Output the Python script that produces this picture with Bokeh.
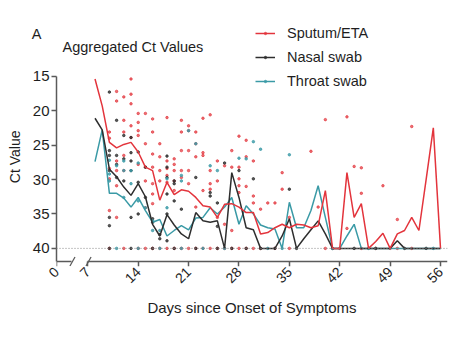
import math
from bokeh.plotting import figure
from bokeh.models import Range1d, FixedTicker, Span, Label, Legend, LegendItem, LinearAxis
from bokeh.embed import file_html
from bokeh.resources import INLINE

# ---------------- data ----------------
days = list(range(8, 57))

sputum_mean = [15.4, 19.3, 24.6, 25.4, 24.9, 24.6, 26.0, 28.2, 28.7, 33.0,
               30.4, 32.2, 31.5, 31.7, 32.6, 33.8, 34.0, 35.5, 33.6, 33.5,
               34.0, 34.8, 34.8, 37.9, 37.7, 37.0, 36.5, 37.0, 36.5, 36.6,
               37.0, 36.7, 31.6, 40.0, 40.0, 29.0, 35.5, 33.5, 40.0, 39.0,
               37.8, 40.0, 37.9, 37.4, 35.5, 37.4, 30.0, 22.5, 40.0]

nasal_mean = [21.1, 22.8, 28.5, 29.6, 31.1, 32.3, 30.6, 32.5, 36.5, 38.2,
              35.1, 36.6, 37.9, 38.6, 34.8, 36.0, 36.2, 36.0, 40.0, 29.0,
              32.6, 37.0, 37.3, 40.0, 40.0, 40.0, 38.2, 35.7, 40.0, 38.6,
              37.3, 36.0, 37.9, 40.0, 40.0, 40.0, 40.0, 40.0, 40.0, 40.0,
              40.0, 40.0, 38.9, 40.0, 40.0, 40.0, 40.0, 40.0, 40.0]

throat_mean = [27.4, 22.8, 32.0, 32.0, 32.7, 34.0, 32.6, 34.5, 36.2, 35.8,
               38.2, 37.4, 36.7, 37.3, 35.6, 35.5, 34.1, 35.0, 34.0, 32.6,
               36.5, 33.8, 35.0, 36.6, 37.0, 37.2, 40.0, 33.3, 37.0, 37.0,
               34.5, 30.9, 35.5, 40.0, 40.0, 38.2, 36.5, 40.0, 40.0, 40.0,
               40.0, 40.0, 40.0, 40.0, 40.0, 40.0, 40.0, 40.0, 40.0]

# individual samples (day, Ct)
sputum_day = [10, 10, 10, 10, 10, 11, 11, 11, 11, 11, 11, 12, 12, 12, 12, 12,
              13, 13, 13, 13, 13, 14, 14, 14, 14, 14, 15, 15, 15, 15, 15,
              16, 16, 16, 16, 16, 16, 16, 17, 17, 17, 17, 18, 18, 18, 18, 18,
              19, 19, 19, 19, 19, 20, 20, 20, 20, 20, 21, 21, 21, 21, 21,
              22, 22, 22, 22, 23, 23, 23, 23, 24, 24, 24, 24, 25, 25, 25,
              26, 26, 27, 27, 27, 28, 28, 28, 28, 28, 29, 29, 29, 30, 30, 30,
              31, 32, 33, 34, 34, 35, 38, 39, 40, 43, 43, 44, 45, 45, 48, 50, 52,
              10, 12, 14, 15, 16, 17, 18, 19, 20, 21, 22, 23, 24, 25, 26, 27,
              28, 29, 30, 31, 33, 35, 40, 42, 45, 47, 49, 50, 52]
sputum_ct = [23.1, 24.0, 28.4, 29.9, 34.5, 17.2, 18.6, 27.3, 28.7, 30.9, 35.5,
             18.0, 21.4, 23.1, 26.5, 28.7, 15.4, 17.6, 19.0, 22.2, 23.9,
             20.4, 21.7, 22.9, 23.6, 27.8, 20.4, 24.8, 28.2, 30.2, 34.1,
             21.2, 23.1, 26.3, 28.2, 30.6, 32.1, 33.5, 24.8, 26.7, 28.7, 30.2,
             21.0, 27.3, 28.4, 29.4, 30.4, 27.0, 27.8, 28.7, 30.2, 31.6,
             21.4, 23.1, 25.8, 28.7, 29.7, 22.2, 22.9, 25.8, 28.7, 30.6,
             23.1, 24.8, 26.7, 34.0, 21.1, 26.1, 26.5, 31.6, 20.6, 28.7, 30.6, 31.4,
             27.3, 30.2, 35.5, 28.0, 36.5, 25.8, 28.2, 37.4,
             23.7, 28.2, 29.9, 30.9, 31.9, 24.3, 26.7, 31.0, 27.3, 32.4, 33.4,
             34.3, 33.4, 33.4, 29.0, 31.4, 35.5, 25.9, 34.0, 21.3, 20.9, 37.1,
             28.1, 28.3, 32.0, 30.9, 35.8, 22.3,
             40, 40, 40, 40, 40, 40, 40, 40, 40, 40, 40, 40, 40, 40, 40, 40,
             40, 40, 40, 40, 40, 40, 40, 40, 40, 40, 40, 40, 40]

nasal_day = [10, 10, 10, 10, 10, 10, 11, 11, 11, 11, 12, 12, 12,
             13, 13, 13, 13, 13, 14, 14, 14, 15, 15, 16, 16, 17, 17,
             18, 18, 18, 18, 18, 18, 19, 19, 19, 20, 22, 24, 24, 25, 25,
             26, 28, 30, 35,
             10, 13, 16, 19, 22, 25, 27, 29, 31, 33, 36, 41, 44, 47, 51, 54]
nasal_ct = [17.3, 25.8, 26.5, 28.7, 35.5, 36.7, 21.4, 26.5, 27.8, 29.7,
            23.6, 27.0, 30.2, 23.9, 26.1, 27.3, 28.7, 35.5, 26.0, 30.4, 35.0,
            28.2, 32.6, 35.7, 36.2, 38.0, 38.6, 26.6, 28.2, 29.7, 32.1, 35.0,
            38.9, 30.2, 30.6, 33.1, 34.3, 29.7, 31.9, 32.4, 33.4, 36.8,
            27.6, 28.7, 29.9, 31.4,
            40, 40, 40, 40, 40, 40, 40, 40, 40, 40, 40, 40, 40, 40, 40, 40]

throat_day = [10, 10, 10, 11, 12, 12, 12, 13, 13, 14, 14, 15, 16, 16, 17,
              18, 18, 20, 20, 21, 22, 24, 25, 28, 29, 30, 31, 35,
              11, 14, 17, 20, 23, 26, 32, 34, 41, 46, 55]
throat_ct = [27.2, 29.2, 30.2, 28.0, 27.3, 28.7, 32.6, 28.7, 30.6, 27.6, 33.1,
             34.1, 36.0, 37.4, 37.4, 29.9, 34.1, 29.4, 30.2, 22.9, 24.8, 28.0,
             28.7, 26.9, 27.0, 24.5, 25.6, 26.4,
             40, 40, 40, 40, 40, 40, 40, 40, 40, 40, 40]

y_ticks = [15, 20, 25, 30, 35, 40]
x_ticks = [7, 14, 21, 28, 35, 42, 49, 56]
x_origin_label = "0"
series_names = ["Sputum/ETA", "Nasal swab", "Throat swab"]
title_text = "Aggregated Ct Values"
panel_letter = "A"
x_label = "Days since Onset of Symptoms"
y_label = "Ct Value"

# ---------------- styling ----------------
RED = "#e3343c"
BLACK = "#2e2e2e"
TEAL = "#3a9aa6"
FONT = "Liberation Sans"
TXT = "#1e1e1e"
AXC = "#5a5a5a"

X0, X1 = 2.65, 56.97          # x range (axis origin .. right end)
Y_AXIS = 41.9                 # Ct value where the x axis line sits
Y_BOT, Y_TOP = 42.63, 4.0     # y range of the frame (reversed)
Y_AX_TOP = 15
BREAK_L, BREAK_R = 4.8, 7.0
LETTER_POS = 8.8
NBSP = "\u00a0"

p = figure(width=463, height=338, output_backend="svg", toolbar_location=None,
           x_range=Range1d(X0, X1), y_range=Range1d(Y_BOT, Y_TOP),
           min_border_left=56, min_border_right=16,
           min_border_top=0, min_border_bottom=72)
p.title.visible = False
p.outline_line_color = None
p.grid.visible = False
p.background_fill_color = "white"
p.border_fill_color = "white"


def style(ax):
    ax.axis_line_color = AXC
    ax.axis_line_width = 1.5
    ax.major_tick_line_color = AXC
    ax.major_tick_line_width = 1.5
    ax.major_tick_in = 0
    ax.major_tick_out = 5
    ax.minor_tick_line_color = None
    ax.major_label_text_font = FONT
    ax.major_label_text_color = TXT
    ax.axis_label_text_font = FONT
    ax.axis_label_text_color = TXT
    ax.axis_label_text_font_style = "normal"


# main y axis (label padded at its far end so it sits centred on the axis line)
yax = p.yaxis[0]
style(yax)
yax.bounds = (Y_AX_TOP, Y_AXIS)
yax.ticker = FixedTicker(ticks=y_ticks)
yax.major_label_text_font_size = "15px"
yax.major_label_standoff = 2
yax.axis_label = y_label + NBSP * 12
yax.axis_label_text_font_size = "14px"
yax.axis_label_standoff = 7

# panel letter as the label of an outer helper axis
aax = LinearAxis(ticker=FixedTicker(ticks=[LETTER_POS]))
style(aax)
aax.major_label_overrides = {LETTER_POS: panel_letter}
aax.axis_line_color = None
aax.major_tick_line_color = None
aax.major_tick_out = 0
aax.major_label_standoff = -38
aax.major_label_text_font_size = "14.5px"
p.add_layout(aax, "left")

# x axis: labels from the normal axis at the frame edge (no line, no tick marks)
xax = p.xaxis[0]
style(xax)
xax.axis_line_color = None
xax.major_tick_line_color = None
xax.major_tick_out = 0
xax.ticker = FixedTicker(ticks=[X0] + x_ticks)
xax.major_label_overrides = {X0: x_origin_label}
xax.major_label_orientation = math.pi / 4
xax.major_label_text_font_size = "14px"
xax.major_label_standoff = 3
xax.axis_label = x_label
xax.axis_label_text_font_size = "15px"
xax.axis_label_standoff = 8

# x axis line and ticks, broken between BREAK_L and BREAK_R
for lo, hi, tks in ((X0, BREAK_L, [X0]), (BREAK_R, X1, x_ticks)):
    seg = LinearAxis(fixed_location=Y_AXIS, bounds=(lo, hi), ticker=FixedTicker(ticks=tks))
    style(seg)
    seg.major_label_text_color = None
    p.add_layout(seg, "below")

# break marks
for bx in (BREAK_L + 0.07, BREAK_R + 0.1):
    p.segment(x0=bx - 0.35, y0=Y_AXIS + 0.65, x1=bx + 0.35, y1=Y_AXIS - 0.65,
              line_color=AXC, line_width=1.3)

# limit-of-detection line
p.add_layout(Span(location=40, dimension="width", line_color="#8a8a8a",
                  line_width=1, line_dash="1 2"))

# points
sr = p.scatter(sputum_day, sputum_ct, size=2.5, color=RED, alpha=0.7)
nr = p.scatter(nasal_day, nasal_ct, size=2.5, color=BLACK, alpha=0.8)
tr = p.scatter(throat_day, throat_ct, size=2.5, color=TEAL, alpha=0.8)

# mean lines
tl = p.line(days, throat_mean, line_color=TEAL, line_width=1.5)
nl = p.line(days, nasal_mean, line_color=BLACK, line_width=1.5)
sl = p.line(days, sputum_mean, line_color=RED, line_width=1.5)

legend = Legend(items=[LegendItem(label=series_names[0], renderers=[sl, sr]),
                       LegendItem(label=series_names[1], renderers=[nl, nr]),
                       LegendItem(label=series_names[2], renderers=[tl, tr])],
                location=(199, 175), padding=0, margin=0, spacing=4,
                glyph_width=20, glyph_height=6, label_height=20,
                label_standoff=12, border_line_color=None,
                background_fill_alpha=0,
                label_text_font=FONT, label_text_font_size="14.5px",
                label_text_color=TXT)
p.add_layout(legend, "center")

# title
p.add_layout(Label(x=3.49, y=10.8, text=title_text, text_font=FONT,
                   text_font_size="14.5px", text_color=TXT,
                   text_align="left", text_baseline="middle"))

open("out.html", "w").write(file_html(p, INLINE))
